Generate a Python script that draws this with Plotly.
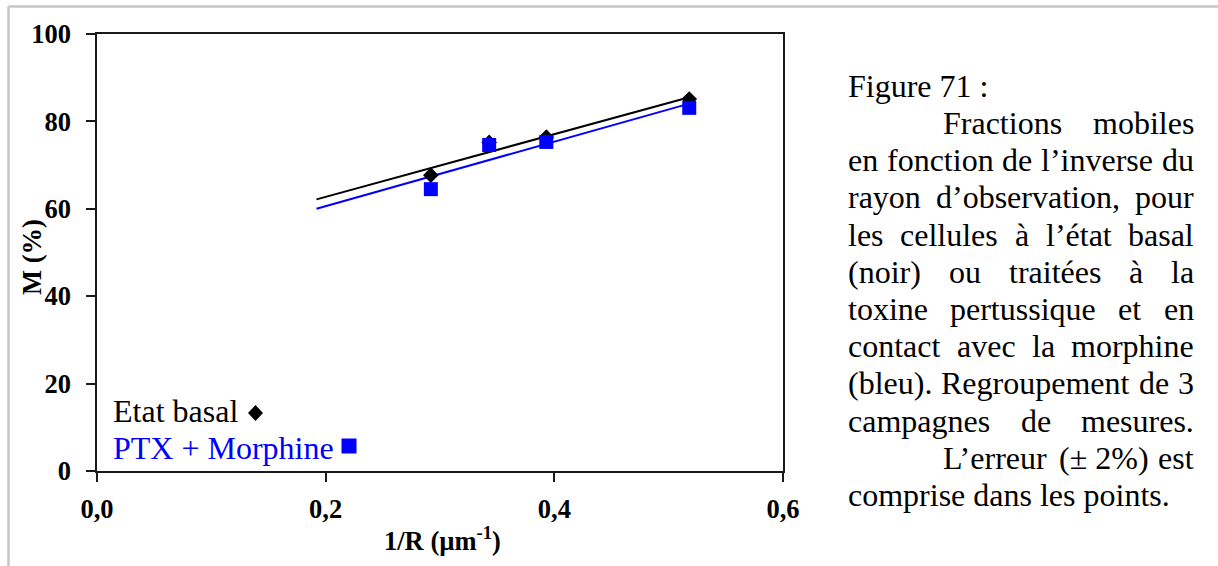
import numpy as np
import plotly.graph_objects as go

# ---- data -------------------------------------------------------------
inv_r = [0.292, 0.343, 0.393, 0.518]          # 1/R (µm^-1)
m_basal = [67.7, 75.2, 76.4, 85.1]            # Etat basal, M (%)
m_ptx = [64.5, 74.6, 75.3, 83.1]              # PTX + Morphine, M (%)

x_ticks = [0.0, 0.2, 0.4, 0.6]
x_tick_labels = ["0,0", "0,2", "0,4", "0,6"]
y_ticks = [0, 20, 40, 60, 80, 100]
y_tick_labels = ["0", "20", "40", "60", "80", "100"]

series_names = ["Etat basal", "PTX + Morphine"]
caption = [
    "Figure 71 :",
    "Fractions mobiles",
    "en fonction de l\u2019inverse du",
    "rayon d\u2019observation, pour",
    "les cellules \u00e0 l\u2019\u00e9tat basal",
    "(noir) ou trait\u00e9es \u00e0 la",
    "toxine pertussique et en",
    "contact avec la morphine",
    "(bleu). Regroupement de 3",
    "campagnes de mesures.",
    "L\u2019erreur (\u00b1 2%) est",
    "comprise dans les points.",
]

# ---- geometry ---------------------------------------------------------
W, H = 1218, 566
PL, PR, PT, PB = 97, 783, 34, 471
SERIF = "Liberation Serif, Times New Roman, serif"


def px(x):
    return (x - PL) / (PR - PL)


def py(y):
    return (PB - y) / (PB - PT)


# Times metrics (per 1000 em) used to set the justified caption
TIMES_W = {
    " ": 250, "(": 333, ")": 333, "%": 833, "+": 564, ",": 250, ".": 250,
    ":": 278, "\u2019": 333, "\u00b1": 564, "\u00e0": 444, "\u00e9": 444,
    "0": 500, "1": 500, "2": 500, "3": 500, "7": 500,
    "F": 556, "L": 611, "R": 667,
    "a": 444, "b": 500, "c": 444, "d": 500, "e": 444, "f": 333, "g": 500,
    "h": 500, "i": 278, "k": 500, "l": 278, "m": 778, "n": 500, "o": 500,
    "p": 500, "q": 500, "r": 333, "s": 389, "t": 278, "u": 500, "v": 500,
    "x": 500, "y": 500,
}


def text_width(s, size):
    return sum(TIMES_W.get(ch, 500) for ch in s) * size / 1000.0


# ---- traces -----------------------------------------------------------
fig = go.Figure()

x_arr = np.array(inv_r)
x_fit = np.array([x_arr[0] - 0.1, x_arr[-1]])
for vals, col in ((m_basal, "#000000"), (m_ptx, "#0000ff")):
    slope, icpt = np.polyfit(x_arr, np.array(vals), 1)
    fig.add_trace(go.Scatter(
        x=x_fit, y=slope * x_fit + icpt, mode="lines",
        line=dict(color=col, width=2), showlegend=False, hoverinfo="skip"))

fig.add_trace(go.Scatter(
    x=inv_r, y=m_basal, mode="markers", name=series_names[0],
    marker=dict(symbol="diamond", size=12, color="#000000"),
    showlegend=False))
fig.add_trace(go.Scatter(
    x=inv_r, y=m_ptx, mode="markers", name=series_names[1],
    marker=dict(symbol="square", size=14, color="#0000ff"),
    showlegend=False))

# ---- annotations ------------------------------------------------------
ann = []
FS = 32


def word(text, x_left, baseline, color="#000000", size=FS):
    ann.append(dict(
        text=text, x=px(x_left), y=py(baseline - 0.18 * size),
        xref="paper", yref="paper", xanchor="left", yanchor="middle",
        showarrow=False, borderpad=0,
        font=dict(family=SERIF, size=size, color=color)))


# caption block: justified between CAP_L and CAP_R
CAP_L, CAP_R, INDENT = 847, 1193, 95
base0, lead = 91.5, 37.2
indented = {1, 10}
natural = {0, 11}
for i, line in enumerate(caption):
    b = base0 + lead * i
    left = CAP_L + (INDENT if i in indented else 0)
    words = line.split(" ")
    if i in natural or len(words) == 1:
        word(line, left, b)
        continue
    # keep "(± 2%)" together as one unit
    if "(\u00b1" in words:
        k = words.index("(\u00b1")
        words[k:k + 2] = [words[k] + " " + words[k + 1]]
    widths = [text_width(w, FS) for w in words]
    gap = (CAP_R - left - sum(widths)) / (len(words) - 1)
    x = left
    for w, wd in zip(words, widths):
        word(w, x, b)
        x += wd + gap

# in-plot series labels
word(series_names[0], 111.7, 416.5)
word(series_names[1], 111.7, 453.5, color="#0000ff")

# axis titles
ann.append(dict(
    text="<b>1/R (\u00b5m<sup>-1</sup>)</b>", x=px(442), y=py(539),
    xref="paper", yref="paper", xanchor="center", yanchor="middle",
    showarrow=False, font=dict(family=SERIF, size=26.5, color="#000000")))
ann.append(dict(
    text="<b>M (%)</b>", x=px(32), y=py(257), textangle=-90,
    xref="paper", yref="paper", xanchor="center", yanchor="middle",
    showarrow=False, font=dict(family=SERIF, size=26.5, color="#000000")))

# ---- shapes: series-label symbols and page frame ------------------------
shapes = [
    dict(type="path", xref="paper", yref="paper",
         xsizemode="pixel", ysizemode="pixel",
         xanchor=px(255.5), yanchor=py(413),
         path="M 0,8 L 7.5,0 L 0,-8 L -7.5,0 Z",
         fillcolor="#000000", line=dict(width=0)),
    dict(type="rect", xref="paper", yref="paper",
         xsizemode="pixel", ysizemode="pixel",
         xanchor=px(349), yanchor=py(446),
         x0=-7.5, x1=7.5, y0=-7.5, y1=7.5,
         fillcolor="#0000ff", line=dict(width=0)),
    dict(type="line", xref="paper", yref="paper",
         x0=px(8.5), x1=px(W + 5), y0=py(6.5), y1=py(6.5),
         line=dict(color="#c6c6c6", width=2.5)),
    dict(type="line", xref="paper", yref="paper",
         x0=px(8.5), x1=px(8.5), y0=py(6.5), y1=py(H + 5),
         line=dict(color="#c6c6c6", width=2.5)),
]

axis_common = dict(
    showgrid=False, zeroline=False, showline=True, linecolor="#1a1a1a",
    linewidth=1.5, mirror=True, ticks="outside", ticklen=9, tickwidth=1.5,
    tickcolor="#1a1a1a",
    tickfont=dict(family=SERIF, size=26.5, color="#000000", weight="bold"),
)

fig.update_layout(
    width=W, height=H,
    margin=dict(l=PL, r=W - PR, t=PT, b=H - PB, pad=0),
    paper_bgcolor="white", plot_bgcolor="white",
    xaxis=dict(range=[0, 0.6], tickvals=x_ticks, ticktext=x_tick_labels,
               ticklabelstandoff=4, **axis_common),
    yaxis=dict(range=[0, 100], tickvals=y_ticks, ticktext=y_tick_labels,
               ticklabelstandoff=10, **axis_common),
    annotations=ann, shapes=shapes, showlegend=False,
)

fig.write_html("out.html")
